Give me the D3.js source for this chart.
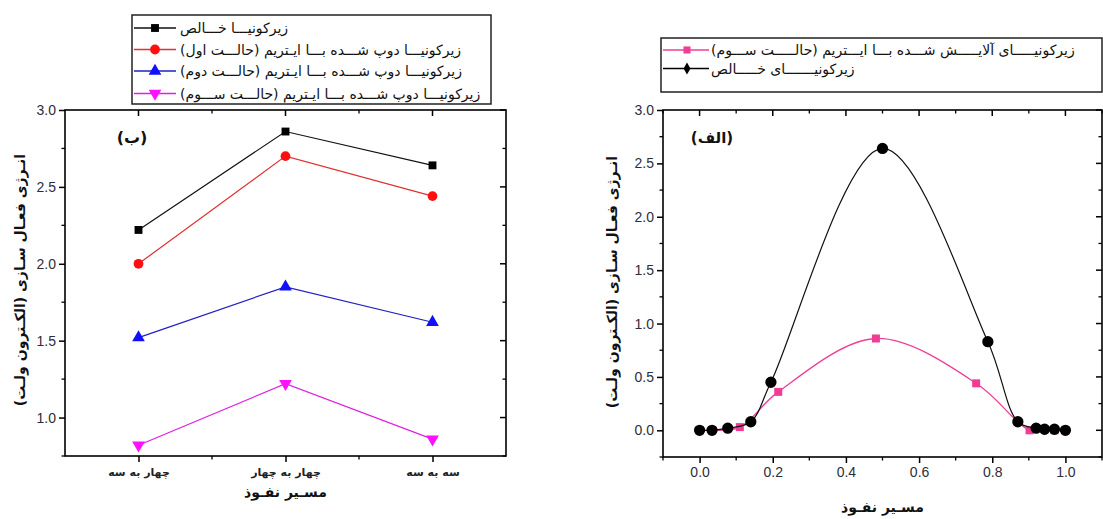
<!DOCTYPE html>
<html>
<head>
<meta charset="utf-8">
<script src="https://cdn.jsdelivr.net/npm/d3@7"></script>
<style>
  html, body { margin: 0; padding: 0; background: #fff; }
  svg { display: block; }
  .fa { font-family: "DejaVu Sans", "Noto Sans", sans-serif; }
  .num { font-family: "Liberation Sans", Arial, sans-serif; font-size: 14px; fill: #2e2e38; }
</style>
</head>
<body>
<svg id="chart" width="1103" height="519"></svg>
<script>
// ---------------- Data ----------------
// Left panel (ب)
const leftCategories = ["چهار به سه", "چهار به چهار", "سه به سه"];
const leftPure   = [2.22, 2.86, 2.64];
const leftCase1  = [2.00, 2.70, 2.44];
const leftCase2  = [1.52, 1.85, 1.62];
const leftCase3  = [0.82, 1.22, 0.86];
const leftNames = [
  "زیرکونیـــا خـــالص",
  "زیرکونیـــا دوپ شـــده بـــا ایـتریم (حالـــت اول)",
  "زیرکونیـــا دوپ شـــده بـــا ایـتریم (حالـــت دوم)",
  "زیرکونیـــا دوپ شـــده بـــا ایـتریم (حالـــت ســـوم)"
];
const leftYTicks = [1.0, 1.5, 2.0, 2.5, 3.0];

// Right panel (الف)
const rightPureX = [0.0, 0.034, 0.077, 0.14, 0.195, 0.5, 0.788, 0.87, 0.92, 0.943, 0.97, 1.0];
const rightPureY = [0.0, 0.0, 0.02, 0.08, 0.45, 2.64, 0.83, 0.08, 0.02, 0.01, 0.01, 0.0];
const rightCase3X = [0.0, 0.034, 0.11, 0.215, 0.482, 0.756, 0.87, 0.902, 0.97, 1.0];
const rightCase3Y = [0.0, 0.0, 0.03, 0.36, 0.86, 0.44, 0.08, 0.0, 0.0, 0.0];
const rightNames = [
  "زیرکونیـــــای آلایـــــش شـــده بـــا ایـــتریم (حالـــــت ســـوم)",
  "زیرکونیـــــــای خـــــالص"
];
const rightXTicks = [0.0, 0.2, 0.4, 0.6, 0.8, 1.0];
const rightYTicks = [0.0, 0.5, 1.0, 1.5, 2.0, 2.5, 3.0];

const yTitle = "انـرژی فعـال سـازی (الکـترون ولـت)";
const xTitle = "مسـیر نفـوذ";
const leftTag = "(ب)";
const rightTag = "(الف)";

// ---------------- Drawing ----------------
const svg = d3.select("#chart");

function frameAxes(g, x, y, box, opts) {
  const {x0, x1, y0, y1} = box;
  const bottom = g.append("g").attr("transform", `translate(0,${y1})`);
  bottom.call(d3.axisBottom(x).tickValues(opts.xMajor).tickSize(6).tickFormat(opts.xFormat))
    .call(a => a.select(".domain").remove());
  bottom.selectAll(".tick line").attr("stroke", "#000").attr("stroke-width", 1.5);
  bottom.selectAll(".tick text").attr("class", opts.xTextClass).attr("dy", "0.9em").attr("y", 7)
    .attr("font-size", null).attr("font-family", null).attr("fill", null);
  bottom.selectAll("line.minor").data(opts.xMinor).join("line").attr("class","minor")
    .attr("x1", d => x(d)).attr("x2", d => x(d)).attr("y1", 0).attr("y2", 3.5).attr("stroke","#000").attr("stroke-width",1.3);
  const top = g.append("g").attr("transform", `translate(0,${y0})`);
  top.selectAll("line.maj").data(opts.xMajor).join("line").attr("class","maj")
    .attr("x1", d => x(d)).attr("x2", d => x(d)).attr("y1", 0).attr("y2", 6).attr("stroke","#000").attr("stroke-width",1.5);
  top.selectAll("line.min").data(opts.xMinor).join("line").attr("class","min")
    .attr("x1", d => x(d)).attr("x2", d => x(d)).attr("y1", 0).attr("y2", 3.5).attr("stroke","#000").attr("stroke-width",1.3);
  const left = g.append("g").attr("transform", `translate(${x0},0)`);
  left.call(d3.axisLeft(y).tickValues(opts.yMajor).tickSize(6).tickFormat(d3.format(".1f")))
    .call(a => a.select(".domain").remove());
  left.selectAll(".tick line").attr("stroke", "#000").attr("stroke-width", 1.5);
  left.selectAll(".tick text").attr("class", "num").attr("x", -9).attr("font-size", null).attr("font-family", null).attr("fill", null);
  left.selectAll("line.minor").data(opts.yMinor).join("line").attr("class","minor")
    .attr("x1", 0).attr("x2", -3.5).attr("y1", d => y(d)).attr("y2", d => y(d)).attr("stroke","#000").attr("stroke-width",1.3);
  const right = g.append("g").attr("transform", `translate(${x1},0)`);
  right.selectAll("line.maj").data(opts.yMajor).join("line").attr("class","maj")
    .attr("x1", 0).attr("x2", -6).attr("y1", d => y(d)).attr("y2", d => y(d)).attr("stroke","#000").attr("stroke-width",1.5);
  right.selectAll("line.min").data(opts.yMinor).join("line").attr("class","min")
    .attr("x1", 0).attr("x2", -3.5).attr("y1", d => y(d)).attr("y2", d => y(d)).attr("stroke","#000").attr("stroke-width",1.3);
  g.append("rect").attr("x", x0).attr("y", y0).attr("width", x1 - x0).attr("height", y1 - y0)
    .attr("fill", "none").attr("stroke", "#000").attr("stroke-width", 1.6);
}

function rtlText(g, x, y, txt, size, anchorLeft, extra) {
  const t = g.append("text").attr("class", "fa").attr("x", x).attr("y", y)
    .attr("direction", "rtl").style("direction", "rtl").style("unicode-bidi", "embed")
    .attr("font-size", size).attr("fill", "#111").text(txt);
  t.attr("text-anchor", anchorLeft === "left" ? "end" : anchorLeft === "right" ? "start" : "middle");
  if (extra) extra(t);
  return t;
}

// ===== Left panel =====
{
  const box = {x0: 65, x1: 506, y0: 110, y1: 456};
  const g = svg.append("g");
  const xLin = d3.scaleLinear().domain([-0.5, leftCategories.length - 0.5]).range([box.x0, box.x1]);
  const y = d3.scaleLinear().domain([0.75, 3.0]).range([box.y1, box.y0]);
  const xMinor = d3.range(leftCategories.length - 1).map(i => i + 0.5);
  frameAxes(g, xLin, y, box, {
    xMajor: d3.range(leftCategories.length), xMinor: xMinor,
    xFormat: i => leftCategories[i], xTextClass: "fa",
    yMajor: leftYTicks, yMinor: d3.range(0.75, 3.0, 0.5).map(v => +v.toFixed(2))
  });
  g.selectAll(".tick text.fa").attr("font-size", 11).attr("fill", "#222").attr("font-weight", "bold").attr("y", 10);

  const series = [
    {vals: leftPure,  color: "#111111", mcolor: "#000000", sym: d3.symbolSquare, size: 62, rot: 0},
    {vals: leftCase1, color: "#e03030", mcolor: "#ff1010", sym: d3.symbolCircle, size: 75, rot: 0},
    {vals: leftCase2, color: "#2020c0", mcolor: "#1010ff", sym: d3.symbolTriangle, size: 70, rot: 0},
    {vals: leftCase3, color: "#e020e0", mcolor: "#ff10ff", sym: d3.symbolTriangle, size: 70, rot: 180}
  ];
  const line = d3.line().x((d, i) => xLin(i)).y(d => y(d));
  series.forEach(s => {
    g.append("path").attr("d", line(s.vals)).attr("fill", "none").attr("stroke", s.color).attr("stroke-width", 1.2);
    g.selectAll(null).data(s.vals).join("path")
      .attr("d", d3.symbol().type(s.sym).size(s.size))
      .attr("transform", (d, i) => `translate(${xLin(i)},${y(d)}) rotate(${s.rot})`)
      .attr("fill", s.mcolor);
  });

  rtlText(g, 132, 143, leftTag, 16, "middle", t => t.attr("font-weight", "bold"));
  rtlText(g, xLin(1), 497, xTitle, 14, "middle", t => t.attr("font-weight", "bold"));
  rtlText(g, 0, 0, yTitle, 14, "middle", t => t.attr("font-weight", "bold").attr("transform", "translate(25,280) rotate(-90)"));

  const lg = svg.append("g");
  lg.append("rect").attr("x", 132).attr("y", 15).attr("width", 359).attr("height", 89)
    .attr("fill", "#fff").attr("stroke", "#222").attr("stroke-width", 1.5);
  const rowsY = [28, 49.5, 71, 93.5];
  series.forEach((s, i) => {
    lg.append("line").attr("x1", 134).attr("x2", 176).attr("y1", rowsY[i]).attr("y2", rowsY[i])
      .attr("stroke", s.color).attr("stroke-width", 1.4);
    lg.append("path").attr("d", d3.symbol().type(s.sym).size(s.size))
      .attr("transform", `translate(155,${rowsY[i]}) rotate(${s.rot})`).attr("fill", s.mcolor);
    rtlText(lg, 180, rowsY[i] + 5, leftNames[i], 14, "left");
  });
}

// ===== Right panel =====
{
  const box = {x0: 663, x1: 1102, y0: 110, y1: 457};
  const g = svg.append("g");
  const x = d3.scaleLinear().domain([-0.1, 1.1]).range([box.x0, box.x1]);
  const y = d3.scaleLinear().domain([-0.25, 3.0]).range([box.y1, box.y0]);
  frameAxes(g, x, y, box, {
    xMajor: rightXTicks, xMinor: [-0.1, 0.1, 0.3, 0.5, 0.7, 0.9, 1.1],
    xFormat: d3.format(".1f"), xTextClass: "num",
    yMajor: rightYTicks, yMinor: d3.range(-0.25, 3.0, 0.5).map(v => +v.toFixed(2))
  });

  const pure = rightPureX.map((v, i) => [v, rightPureY[i]]);
  const c3 = rightCase3X.map((v, i) => [v, rightCase3Y[i]]);
  const line = d3.line().x(d => x(d[0])).y(d => y(d[1])).curve(d3.curveCatmullRom.alpha(0.5));
  const pink = "#ef3d97";
  g.append("path").attr("d", line(c3)).attr("fill", "none").attr("stroke", pink).attr("stroke-width", 1.3);
  g.selectAll(null).data(c3).join("path")
    .attr("d", d3.symbol().type(d3.symbolSquare).size(64))
    .attr("transform", d => `translate(${x(d[0])},${y(d[1])})`).attr("fill", pink);
  g.append("path").attr("d", line(pure)).attr("fill", "none").attr("stroke", "#111").attr("stroke-width", 1.2);
  g.selectAll(null).data(pure).join("path")
    .attr("d", d3.symbol().type(d3.symbolCircle).size(100))
    .attr("transform", d => `translate(${x(d[0])},${y(d[1])})`).attr("fill", "#000");

  rtlText(g, 712, 143, rightTag, 15, "middle", t => t.attr("font-weight", "bold"));
  rtlText(g, x(0.5), 512, xTitle, 14, "middle", t => t.attr("font-weight", "bold"));
  rtlText(g, 0, 0, yTitle, 14, "middle", t => t.attr("font-weight", "bold").attr("transform", "translate(617,282) rotate(-90)"));

  const lg = svg.append("g");
  lg.append("rect").attr("x", 661).attr("y", 38).attr("width", 441).attr("height", 54)
    .attr("fill", "#fff").attr("stroke", "#222").attr("stroke-width", 1.5);
  const rowsY = [50, 68.5];
  const items = [
    {color: pink, sym: d3.symbolSquare, size: 50},
    {color: "#000", sym: d3.symbolDiamond, size: 40}
  ];
  items.forEach((s, i) => {
    lg.append("line").attr("x1", 663).attr("x2", 709).attr("y1", rowsY[i]).attr("y2", rowsY[i])
      .attr("stroke", s.color).attr("stroke-width", 1.4);
    lg.append("path").attr("d", d3.symbol().type(s.sym).size(s.size))
      .attr("transform", `translate(687,${rowsY[i]})`).attr("fill", s.color);
    rtlText(lg, 711, rowsY[i] + 5, rightNames[i], 14, "left");
  });
}
</script>
</body>
</html>
